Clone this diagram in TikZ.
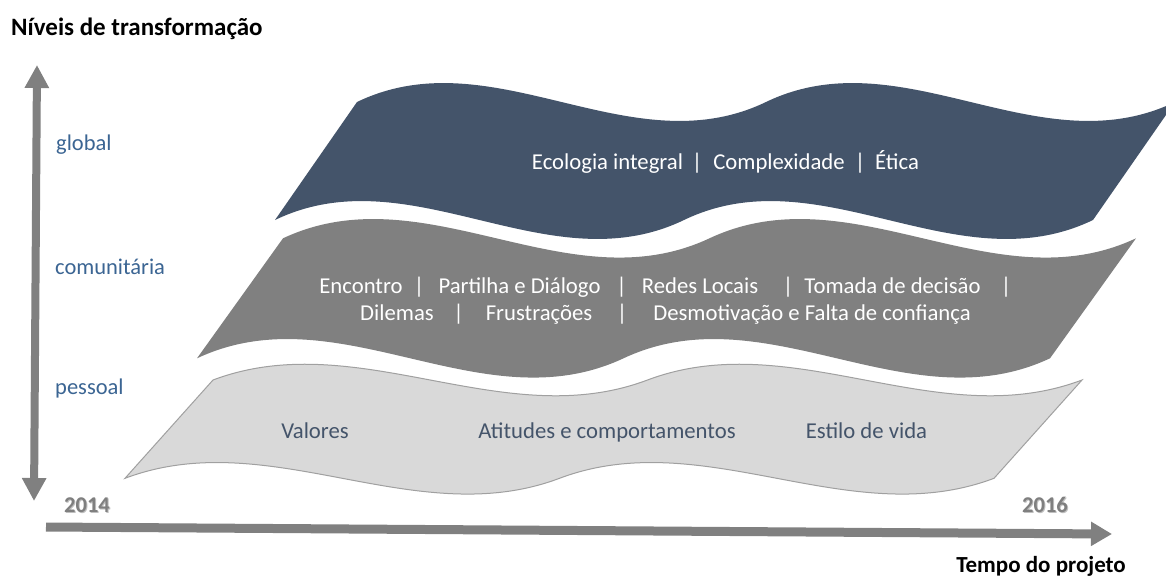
\documentclass[tikz,border=0pt]{standalone}
\usepackage{fontspec}
\setmainfont{Carlito}
\usetikzlibrary{arrows.meta}
\definecolor{darkwave}{HTML}{44546A}
\definecolor{midwave}{HTML}{808080}
\definecolor{lightwave}{HTML}{D9D9D9}
\definecolor{lightedge}{HTML}{A0A0A0}
\definecolor{lvlblue}{HTML}{3B6593}
\definecolor{axisgray}{HTML}{808080}
\definecolor{yeargray}{HTML}{7F7F7F}
\definecolor{yearshadow}{HTML}{BFBFBF}
\definecolor{wavetext}{HTML}{44546A}

% double wave: #1 style, #2 left x (bottom), #3 edge width, #4 skew offset, #5 top line y, #6 bottom line y, #7 control amplitude
\newcommand{\dwave}[7]{%
  \pgfmathsetmacro{\wS}{#3/6}%
  \path[#1] (#2+#4,#5)
    .. controls (#2+#4+\wS,#5-#7) and (#2+#4+2*\wS,#5+#7) .. (#2+#4+3*\wS,#5)
    .. controls (#2+#4+4*\wS,#5-#7) and (#2+#4+5*\wS,#5+#7) .. (#2+#4+#3,#5)
    -- (#2+#3,#6)
    .. controls (#2+5*\wS,#6+#7) and (#2+4*\wS,#6-#7) .. (#2+3*\wS,#6)
    .. controls (#2+2*\wS,#6+#7) and (#2+\wS,#6-#7) .. (#2,#6)
    -- cycle;%
}

\tikzset{
  bodytext/.style={font=\fontsize{22.7}{25}\selectfont, anchor=base, inner sep=0pt},
  whitetext/.style={bodytext, text=white},
  greytext/.style={bodytext, text=wavetext},
  lvltext/.style={font=\fontsize{22.5}{25}\selectfont, anchor=base west, inner sep=0pt, text=lvlblue},
  headtext/.style={font=\fontsize{25}{28}\selectfont\bfseries, inner sep=0pt},
  tailtext/.style={font=\fontsize{23}{26}\selectfont\bfseries, inner sep=0pt},
  yeartext/.style={font=\fontsize{22.5}{24}\selectfont\bfseries, anchor=base, inner sep=0pt, text=yeargray},
  axisarrow/.style={draw=axisgray, line width=8pt},
}

\begin{document}
\begin{tikzpicture}[x=1pt,y=-1pt]
\useasboundingbox (0,0) rectangle (1166,576);
\fill[white] (0,0) rectangle (1166,576);

% waves
\begin{scope}
\clip (0,0) rectangle (1166,576);
\dwave{fill=darkwave}{275}{818}{82}{102}{220}{65.6}
\end{scope}
\dwave{fill=midwave}{197}{853}{86}{238.3}{358.3}{66.7}
\dwave{fill=lightwave, draw=lightedge, line width=1pt}{125}{869}{88}{380}{478.3}{54.6}

% axes
\coordinate (vtop) at (37,65);
\coordinate (vbot) at (34,501);
\coordinate (hleft) at (46,527);
\coordinate (hright) at (1112,534);
\draw[axisarrow, {Triangle[length=23pt,width=23pt]}-{Triangle[length=23pt,width=23pt]}] (vbot) -- (vtop);
\draw[axisarrow, line width=9pt, -{Triangle[length=21pt,width=23pt]}] (hleft) -- (hright);

% titles
\node[headtext, anchor=base west] (title) at (11,35) {Níveis de transformação};
\node[tailtext, anchor=base] (tempo) at (1041,572) {Tempo do projeto};
\node[yeartext, text=yearshadow] at (88,513) {2014};
\node[yeartext] (y2014) at (87,512) {2014};
\node[yeartext, text=yearshadow] at (1046,513) {2016};
\node[yeartext] (y2016) at (1045,512) {2016};

% level labels
\node[lvltext] (lglobal) at (56,150) {global};
\node[lvltext] (lcom) at (55,274) {comunitária};
\node[lvltext] (lpes) at (55,394) {pessoal};

% global wave text
\node[whitetext] (g1) at (607.5,169) {Ecologia integral};
\node[whitetext] (gs1) at (697,169) {|};
\node[whitetext] (g2) at (779,169) {Complexidade};
\node[whitetext] (gs2) at (860,169) {|};
\node[whitetext] (g3) at (897,169) {Ética};

% community wave text
\node[whitetext] (c1) at (361,293) {Encontro};
\node[whitetext] (cs1) at (419,293) {|};
\node[whitetext] (c2) at (519.5,293) {Partilha e Diálogo};
\node[whitetext] (cs2) at (621.5,293) {|};
\node[whitetext] (c3) at (700,293) {Redes Locais};
\node[whitetext] (cs3) at (788,293) {|};
\node[whitetext] (c4) at (892.5,293) {Tomada de decisão};
\node[whitetext] (cs4) at (1006,293) {|};
\node[whitetext] (c5) at (397,320) {Dilemas};
\node[whitetext] (cs5) at (458.6,320) {|};
\node[whitetext] (c6) at (539,320) {Frustrações};
\node[whitetext] (cs6) at (622,320) {|};
\node[whitetext] (c7) at (812,320) {Desmotivação e Falta de confiança};

% personal wave text
\node[greytext] (p1) at (315,438) {Valores};
\node[greytext] (p2) at (607,438) {Atitudes e comportamentos};
\node[greytext] (p3) at (866.5,438) {Estilo de vida};
\end{tikzpicture}
\end{document}
